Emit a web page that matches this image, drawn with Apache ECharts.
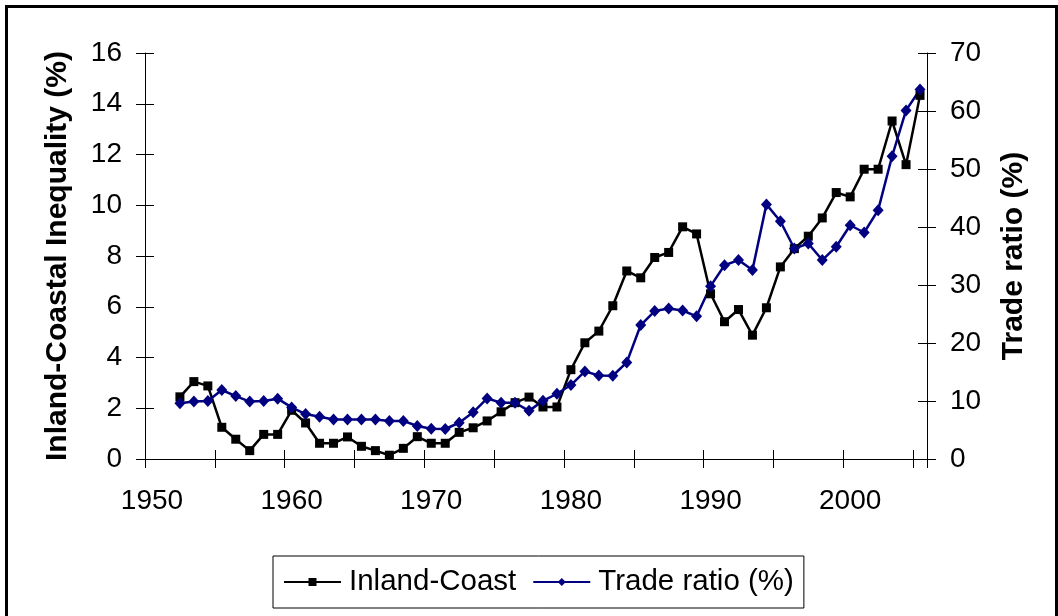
<!DOCTYPE html>
<html>
<head>
<meta charset="utf-8">
<script src="https://cdn.jsdelivr.net/npm/echarts@6/dist/echarts.min.js"></script>
<style>
	html, body { margin: 0; padding: 0; background: #fff; }
	#chart { width: 1058px; height: 616px; }
</style>
</head>
<body>
<div id="chart"></div>
<script>
/* categories: one per year, labels every 10, ticks every 5 */
var years = [];
for (var y = 1950; y <= 2005; y++) years.push(String(y));

/* Inland-Coastal inequality (%), left axis; no data for 1950-51 */
var inlandCoast = [null, null,
	2.45, 3.05, 2.88, 1.25, 0.78, 0.33, 0.97, 0.97, 1.92, 1.42,
	0.62, 0.62, 0.87, 0.50, 0.33, 0.15, 0.42, 0.88, 0.62, 0.62,
	1.05, 1.23, 1.50, 1.86, 2.22, 2.44, 2.05, 2.05, 3.52, 4.58,
	5.04, 6.04, 7.41, 7.14, 7.94, 8.14, 9.15, 8.87, 6.51, 5.41,
	5.89, 4.88, 5.96, 7.57, 8.29, 8.78, 9.50, 10.50, 10.33, 11.42,
	11.42, 13.32, 11.60, 14.33];

/* Trade ratio (%), right axis */
var tradeRatio = [null, null,
	9.6, 9.9, 10.0, 11.9, 10.85, 9.9, 10.0, 10.4, 8.9, 7.75,
	7.3, 6.8, 6.8, 6.8, 6.8, 6.55, 6.55, 5.7, 5.2, 5.17,
	6.25, 8.04, 10.45, 9.7, 9.7, 8.3, 10.03, 11.25, 12.75, 15.1,
	14.4, 14.35, 16.65, 23.1, 25.5, 25.95, 25.6, 24.6, 29.8, 33.4,
	34.3, 32.6, 43.9, 41.0, 36.3, 37.15, 34.3, 36.6, 40.3, 39.05,
	42.9, 52.2, 60.1, 63.7];

var leftTicks = { min: 0, max: 16, interval: 2 };
var rightTicks = { min: 0, max: 70, interval: 10 };

var font = 'Liberation Sans, Arial, sans-serif';

var chart = echarts.init(document.getElementById('chart'), null, { renderer: 'canvas' });

var option = {
	animation: false,
	backgroundColor: '#fff',
	grid: {
		left: 145,
		right: 131,
		top: 53,
		bottom: 157,
		outerBoundsMode: 'none'
	},
	legend: {
		left: 273,
		top: 556,
		orient: 'horizontal',
		padding: [11, 10, 11, 10],
		itemWidth: 57,
		itemHeight: 10,
		itemGap: 16,
		borderColor: '#000',
		borderWidth: 1,
		textStyle: {
			color: '#000',
			fontSize: 29.5,
			fontFamily: font,
			padding: [0, 0, 0, 3]
		},
		data: ['Inland-Coast', 'Trade ratio (%)']
	},
	xAxis: [{
		type: 'category',
		data: years,
		position: 'bottom',
		boundaryGap: true,
		axisLine: { show: true, lineStyle: { color: '#000', width: 1 } },
		axisTick: { show: true, interval: 4, length: 9, lineStyle: { color: '#000' } },
		axisLabel: { interval: 9, color: '#000', fontSize: 28, fontFamily: font, margin: 28 },
		splitLine: { show: false }
	}, {
		// inner half of the crossing ticks
		type: 'category',
		data: years,
		position: 'bottom',
		boundaryGap: true,
		axisLine: { show: false },
		axisTick: { show: true, inside: true, interval: 4, length: 9, lineStyle: { color: '#000' } },
		axisLabel: { show: false },
		splitLine: { show: false }
	}],
	yAxis: [{
		type: 'value',
		position: 'left',
		min: leftTicks.min,
		max: leftTicks.max,
		interval: leftTicks.interval,
		name: 'Inland-Coastal Inequality (%)',
		nameLocation: 'middle',
		nameRotate: 90,
		nameGap: 72,
		nameTextStyle: { color: '#000', fontSize: 30, fontWeight: 'bold', fontFamily: font },
		axisLine: { show: true, lineStyle: { color: '#000', width: 1 } },
		axisTick: { show: true, length: 9, lineStyle: { color: '#000' } },
		axisLabel: { color: '#000', fontSize: 28, fontFamily: font, margin: 23 },
		splitLine: { show: false }
	}, {
		type: 'value',
		position: 'right',
		min: rightTicks.min,
		max: rightTicks.max,
		interval: rightTicks.interval,
		name: 'Trade ratio (%)',
		nameLocation: 'middle',
		nameRotate: 90,
		nameGap: 72,
		nameTextStyle: { color: '#000', fontSize: 30, fontWeight: 'bold', fontFamily: font },
		axisLine: { show: true, lineStyle: { color: '#000', width: 1 } },
		axisTick: { show: true, length: 9, lineStyle: { color: '#000' } },
		axisLabel: { color: '#000', fontSize: 28, fontFamily: font, margin: 23 },
		splitLine: { show: false }
	}, {
		type: 'value',
		position: 'left',
		min: leftTicks.min,
		max: leftTicks.max,
		interval: leftTicks.interval,
		axisLine: { show: false },
		axisTick: { show: true, inside: true, length: 9, lineStyle: { color: '#000' } },
		axisLabel: { show: false },
		splitLine: { show: false }
	}, {
		type: 'value',
		position: 'right',
		min: rightTicks.min,
		max: rightTicks.max,
		interval: rightTicks.interval,
		axisLine: { show: false },
		axisTick: { show: true, inside: true, length: 9, lineStyle: { color: '#000' } },
		axisLabel: { show: false },
		splitLine: { show: false }
	}],
	series: [{
		name: 'Inland-Coast',
		type: 'line',
		xAxisIndex: 0,
		yAxisIndex: 0,
		data: inlandCoast,
		symbol: 'rect',
		symbolSize: 9,
		showAllSymbol: true,
		color: '#000',
		lineStyle: { color: '#000', width: 2.5 },
		itemStyle: { color: '#000' }
	}, {
		name: 'Trade ratio (%)',
		type: 'line',
		xAxisIndex: 0,
		yAxisIndex: 1,
		data: tradeRatio,
		symbol: 'diamond',
		symbolSize: [11, 12],
		showAllSymbol: true,
		color: '#000080',
		lineStyle: { color: '#000080', width: 2.5 },
		itemStyle: { color: '#000080' }
	}],
	graphic: [{
		// outer chart frame, bottom edge runs past the picture
		type: 'rect',
		left: 4,
		top: 4,
		shape: { width: 1050, height: 620 },
		style: { fill: null, stroke: '#000', lineWidth: 3 },
		silent: true
	}]
};

chart.setOption(option);
</script>
</body>
</html>
